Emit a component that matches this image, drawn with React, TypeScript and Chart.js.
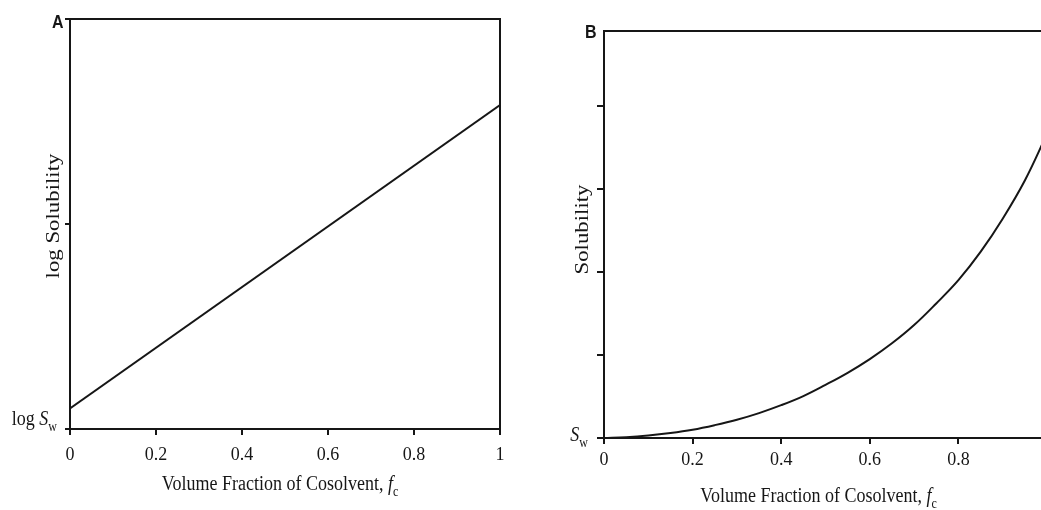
import React, { useEffect, useRef } from 'react';
import { Chart, registerables } from 'chart.js';

Chart.register(...registerables);

// ---- data ----
const xTickValues = [0, 0.2, 0.4, 0.6, 0.8, 1];

const fractionA = [0, 1];
const logSolubilityA = [0.05, 0.79];
const yTickValuesA = [0, 0.5, 1];
const yMaxA = 1;

const fractionB = [0, 0.05, 0.1, 0.15, 0.2, 0.25, 0.3, 0.35, 0.4, 0.45, 0.5, 0.55, 0.6, 0.65, 0.7, 0.75, 0.8, 0.85, 0.9, 0.95, 1];
const solubilityB = [0, 0.01, 0.03, 0.06, 0.1, 0.155, 0.22, 0.3, 0.395, 0.505, 0.64, 0.785, 0.95, 1.14, 1.36, 1.62, 1.9, 2.24, 2.64, 3.1, 3.66];
const yTickValuesB = [0, 1, 2, 3, 4];
const yMaxB = 4.9;

// ---- styles ----
const SERIF = '"Liberation Serif", "Times New Roman", serif';
const SANS = '"Liberation Sans", Arial, sans-serif';
const INK = '#161616';
const STRETCH = 1.2;

type Part = { t: string; italic?: boolean; sub?: boolean };

const xTitleParts: Part[] = [
  { t: 'Volume Fraction of Cosolvent, ' },
  { t: 'f', italic: true },
  { t: 'c', sub: true },
];

function partFont(p: Part, size: number) {
  return `${p.italic ? 'italic ' : ''}${p.sub ? Math.round(size * 0.68) : size}px ${SERIF}`;
}

function drawParts(ctx: CanvasRenderingContext2D, parts: Part[], size: number, align: 'left' | 'center' | 'right') {
  let w = 0;
  for (const p of parts) {
    ctx.font = partFont(p, size);
    w += ctx.measureText(p.t).width;
  }
  let x = align === 'left' ? 0 : align === 'center' ? -w / 2 : -w;
  ctx.textAlign = 'left';
  ctx.textBaseline = 'alphabetic';
  for (const p of parts) {
    ctx.font = partFont(p, size);
    ctx.fillText(p.t, x, p.sub ? size * 0.3 : 0);
    x += ctx.measureText(p.t).width;
  }
}

interface PanelCfg {
  letter: string;
  yTitle: string;
  swParts: Part[];
  xs: number[];
  ys: number[];
  smooth: boolean;
  yTicks: number[];
  yMax: number;
  canvasLeft: number;
  canvasWidth: number;
  yAxisWidth: number;
  xAxisHeight: number;
  padTop: number;
  padRight: number;
  xTickPad: number;
  yTickLen: number;
  letterDx: number;
  letterDy: number;
  yTitleDx: number;
  yTitleDy: number;
  swDx: number;
  swDy: number;
  xTitleDx: number;
  xTitleDy: number;
}

function textPlugin(cfg: PanelCfg) {
  return {
    id: 'panelText' + cfg.letter,
    afterDraw(chart: any) {
      const { ctx, chartArea } = chart;
      const yScale = chart.scales.y;
      ctx.save();
      ctx.fillStyle = INK;

      // panel letter
      ctx.save();
      ctx.translate(chartArea.left + cfg.letterDx, chartArea.top + cfg.letterDy);
      ctx.scale(1, STRETCH);
      ctx.font = `bold 16px ${SANS}`;
      ctx.textAlign = 'left';
      ctx.textBaseline = 'alphabetic';
      ctx.fillText(cfg.letter, 0, 0);
      ctx.restore();

      // y title
      ctx.save();
      ctx.translate(chartArea.left + cfg.yTitleDx, (chartArea.top + chartArea.bottom) / 2 + cfg.yTitleDy);
      ctx.rotate(-Math.PI / 2);
      ctx.scale(STRETCH, 1);
      ctx.font = `19px ${SERIF}`;
      ctx.textAlign = 'center';
      ctx.textBaseline = 'middle';
      ctx.fillText(cfg.yTitle, 0, 0);
      ctx.restore();

      // S_w label at y = 0
      ctx.save();
      ctx.translate(chartArea.left + cfg.swDx, yScale.getPixelForValue(0) + cfg.swDy);
      ctx.scale(1, STRETCH);
      drawParts(ctx, cfg.swParts, 18, 'right');
      ctx.restore();

      // x title
      ctx.save();
      ctx.translate((chartArea.left + chartArea.right) / 2 + cfg.xTitleDx, chartArea.bottom + cfg.xTitleDy);
      ctx.scale(1, STRETCH);
      drawParts(ctx, xTitleParts, 18, 'center');
      ctx.restore();

      ctx.restore();
    },
  };
}

const frameLine = { display: true, color: INK, width: 2 };

function Panel({ cfg }: { cfg: PanelCfg }) {
  const ref = useRef<HTMLCanvasElement>(null);
  useEffect(() => {
    const chart = new Chart(ref.current as HTMLCanvasElement, {
      type: 'line',
      data: {
        datasets: [
          {
            data: cfg.xs.map((x, i) => ({ x, y: cfg.ys[i] })),
            borderColor: INK,
            borderWidth: 2,
            pointRadius: 0,
            fill: false,
            tension: cfg.smooth ? 0.4 : 0,
          } as any,
        ],
      },
      plugins: [textPlugin(cfg)],
      options: {
        responsive: false,
        maintainAspectRatio: false,
        animation: false,
        events: [],
        layout: { padding: { left: 0, top: cfg.padTop, right: cfg.padRight, bottom: 0 } },
        plugins: {
          legend: { display: false },
          tooltip: { enabled: false },
          title: { display: false },
        },
        scales: {
          x: {
            type: 'linear',
            position: 'bottom',
            min: 0,
            max: 1,
            afterBuildTicks: (s: any) => {
              s.ticks = xTickValues.map((v) => ({ value: v }));
            },
            afterFit: (s: any) => {
              s.height = cfg.xAxisHeight;
            },
            grid: { display: true, drawOnChartArea: false, drawTicks: true, tickLength: 6, color: INK, lineWidth: 2 },
            border: frameLine,
            ticks: {
              color: INK,
              font: { family: SERIF, size: 18 },
              padding: cfg.xTickPad,
              maxRotation: 0,
              autoSkip: false,
              callback: (v: any) => String(v),
            },
          },
          y: {
            type: 'linear',
            position: 'left',
            min: 0,
            max: cfg.yMax,
            afterBuildTicks: (s: any) => {
              s.ticks = cfg.yTicks.map((v) => ({ value: v }));
            },
            afterFit: (s: any) => {
              s.width = cfg.yAxisWidth;
            },
            grid: { display: true, drawOnChartArea: false, drawTicks: true, tickLength: cfg.yTickLen, color: INK, lineWidth: 2 },
            border: frameLine,
            ticks: { display: false },
          },
          xTop: {
            type: 'linear',
            position: 'top',
            min: 0,
            max: 1,
            grid: { display: false },
            ticks: { display: false },
            border: frameLine,
            afterFit: (s: any) => {
              s.height = 0;
            },
          },
          yRight: {
            type: 'linear',
            position: 'right',
            min: 0,
            max: cfg.yMax,
            grid: { display: false },
            ticks: { display: false },
            border: frameLine,
            afterFit: (s: any) => {
              s.width = 0;
            },
          },
        } as any,
      },
    });
    return () => chart.destroy();
  }, [cfg]);
  return (
    <canvas
      ref={ref}
      width={cfg.canvasWidth}
      height={510}
      style={{ position: 'absolute', left: cfg.canvasLeft, top: 0, width: cfg.canvasWidth, height: 510 }}
    />
  );
}

const panelA: PanelCfg = {
  letter: 'A',
  yTitle: 'log Solubility',
  swParts: [{ t: 'log ' }, { t: 'S', italic: true }, { t: 'w', sub: true }],
  xs: fractionA,
  ys: logSolubilityA,
  smooth: false,
  yTicks: yTickValuesA,
  yMax: yMaxA,
  canvasLeft: 0,
  canvasWidth: 520,
  yAxisWidth: 70,
  xAxisHeight: 81,
  padTop: 19,
  padRight: 20,
  xTickPad: 9,
  yTickLen: 5,
  letterDx: -18,
  letterDy: 9,
  yTitleDx: -16,
  yTitleDy: -8,
  swDx: -13,
  swDy: -4,
  xTitleDx: -5,
  xTitleDy: 61,
};

const panelB: PanelCfg = {
  letter: 'B',
  yTitle: 'Solubility',
  swParts: [{ t: 'S', italic: true }, { t: 'w', sub: true }],
  xs: fractionB,
  ys: solubilityB,
  smooth: true,
  yTicks: yTickValuesB,
  yMax: yMaxB,
  canvasLeft: 520,
  canvasWidth: 560,
  yAxisWidth: 84,
  xAxisHeight: 72,
  padTop: 31,
  padRight: 33,
  xTickPad: 5,
  yTickLen: 7,
  letterDx: -19,
  letterDy: 7,
  yTitleDx: -21,
  yTitleDy: -5,
  swDx: -16,
  swDy: 3,
  xTitleDx: -7,
  xTitleDy: 64,
};

export default function App() {
  return (
    <div
      style={{
        position: 'fixed',
        left: 0,
        top: 0,
        width: 1041,
        height: 510,
        overflow: 'hidden',
        background: '#ffffff',
      }}
    >
      <Panel cfg={panelA} />
      <Panel cfg={panelB} />
    </div>
  );
}
